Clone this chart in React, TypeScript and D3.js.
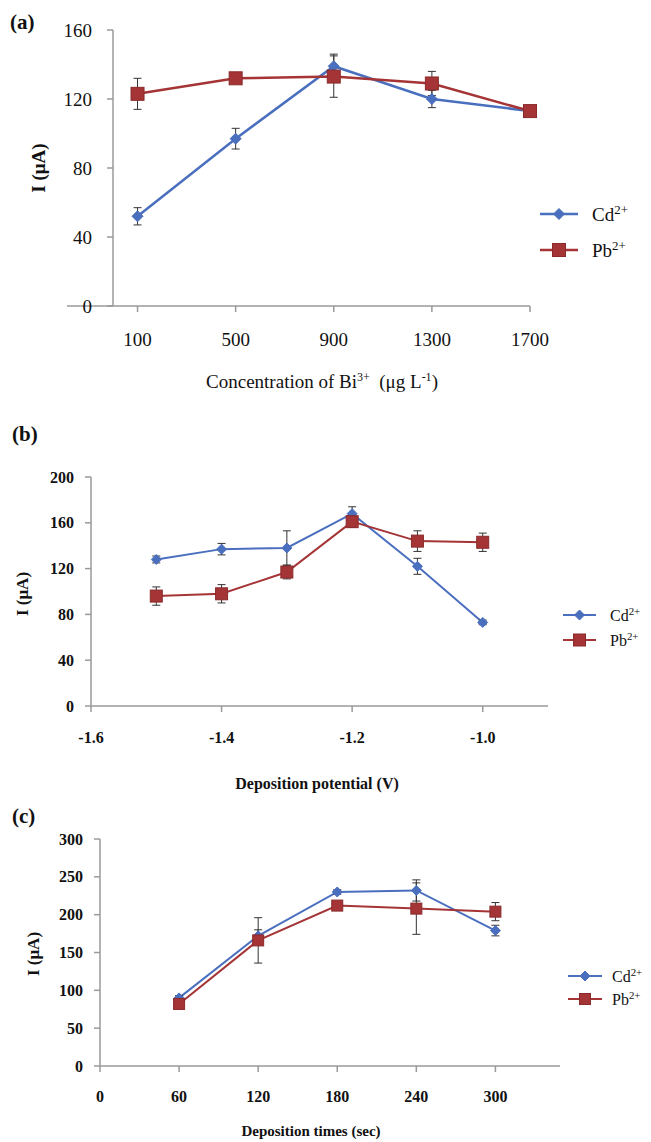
import React from "react";
import * as d3 from "d3";

// ---------- DATA ----------
// Panel (a): concentration of Bi3+ (µg L-1)
const X_A = [100, 500, 900, 1300, 1700];
const CD_A = [52, 97, 139, 120, 113];
const CD_A_ERR = [5, 6, 7, 5, 3];
const PB_A = [123, 132, 133, 129, 113];
const PB_A_ERR = [9, 2, 12, 7, 3];
const XTICKS_A = [100, 500, 900, 1300, 1700];
const YTICKS_A = [0, 40, 80, 120, 160];

// Panel (b): deposition potential (V)
const X_B = [-1.5, -1.4, -1.3, -1.2, -1.1, -1.0];
const CD_B = [128, 137, 138, 168, 122, 73];
const CD_B_ERR = [3, 5, 15, 6, 7, 2];
const PB_B = [96, 98, 117, 161, 144, 143];
const PB_B_ERR = [8, 8, 6, 5, 9, 8];
const XTICKS_B = [-1.6, -1.4, -1.2, -1.0];
const YTICKS_B = [0, 40, 80, 120, 160, 200];

// Panel (c): deposition times (sec)
const X_C = [60, 120, 180, 240, 300];
const CD_C = [90, 172, 230, 232, 179];
const CD_C_ERR = [3, 8, 3, 14, 7];
const PB_C = [82, 166, 212, 208, 204];
const PB_C_ERR = [3, 30, 5, 34, 12];
const XTICKS_C = [0, 60, 120, 180, 240, 300];
const YTICKS_C = [0, 50, 100, 150, 200, 250, 300];

const SERIES = ["Cd", "Pb"];

// ---------- STYLE ----------
const CD_COLOR = "#4A6FBE";
const PB_COLOR = "#A53436";
const AXIS_COLOR = "#9a9a9a";
const FONT = "'Liberation Serif', 'DejaVu Serif', serif";

type PanelProps = {
  label: string;
  labelPos: [number, number];
  xs: number[];
  cd: number[];
  cdErr: number[];
  pb: number[];
  pbErr: number[];
  xDomain: [number, number];
  xRange: [number, number];
  yDomain: [number, number];
  yRange: [number, number];
  xTicks: number[];
  yTicks: number[];
  xFmt: (v: number) => string;
  axisLeftExtend: number;
  tickFont: number;
  tickWeight: string;
  xLabelDy: number;
  yLabelGap: number;
  yTitle: { x: number; y: number; size: number };
  xTitle: React.ReactNode;
  xTitlePos: [number, number];
  xTitleSize: number;
  xTitleWeight: string;
  legend: { x1: number; x2: number; y: number; gap: number; textX: number; size: number };
  lineW: number;
  diamond: number;
  square: number;
};

function Panel(p: PanelProps) {
  const x = d3.scaleLinear().domain(p.xDomain).range(p.xRange);
  const y = d3.scaleLinear().domain(p.yDomain).range(p.yRange);
  const line = d3
    .line<[number, number]>()
    .x((d) => x(d[0]))
    .y((d) => y(d[1]));
  const cdPts: [number, number][] = p.xs.map((v, i) => [v, p.cd[i]]);
  const pbPts: [number, number][] = p.xs.map((v, i) => [v, p.pb[i]]);
  const x0 = p.xRange[0];
  const y0 = y(p.yDomain[0]);
  const cap = 4;

  const errBars = (vals: number[], errs: number[], key: string) =>
    p.xs.map((v, i) => {
      const cx = x(v);
      const t = y(vals[i] + errs[i]);
      const b = y(vals[i] - errs[i]);
      return (
        <g key={key + i} stroke="#333" strokeWidth={1}>
          <line x1={cx} x2={cx} y1={t} y2={b} />
          <line x1={cx - cap} x2={cx + cap} y1={t} y2={t} />
          <line x1={cx - cap} x2={cx + cap} y1={b} y2={b} />
        </g>
      );
    });

  const diamond = (cx: number, cy: number, s: number, key: string) => (
    <path
      key={key}
      d={`M${cx},${cy - s}L${cx + s},${cy}L${cx},${cy + s}L${cx - s},${cy}Z`}
      fill={CD_COLOR}
      stroke={CD_COLOR}
    />
  );
  const square = (cx: number, cy: number, s: number, key: string) => (
    <rect
      key={key}
      x={cx - s / 2}
      y={cy - s / 2}
      width={s}
      height={s}
      fill={PB_COLOR}
      stroke="#8a2a2c"
      strokeWidth={1}
    />
  );

  const lg = p.legend;
  return (
    <g fontFamily={FONT}>
      <text x={p.labelPos[0]} y={p.labelPos[1]} fontSize={21} fontWeight="bold" fill="#111">
        {p.label}
      </text>
      {/* axes */}
      <line x1={x0 - p.axisLeftExtend} x2={p.xRange[1]} y1={y0} y2={y0} stroke={AXIS_COLOR} strokeWidth={1.5} />
      <line x1={x0} x2={x0} y1={p.yRange[1]} y2={y0} stroke={AXIS_COLOR} strokeWidth={1.5} />
      {p.yTicks.map((t) => (
        <g key={"yt" + t}>
          <line x1={x0 - 6} x2={x0} y1={y(t)} y2={y(t)} stroke={AXIS_COLOR} strokeWidth={1.5} />
          <text
            x={x0 - p.yLabelGap}
            y={y(t)}
            dy="0.35em"
            textAnchor="end"
            fontSize={p.tickFont}
            fontWeight={p.tickWeight}
            fill="#111"
          >
            {t}
          </text>
        </g>
      ))}
      {p.xTicks.map((t) => (
        <g key={"xt" + t}>
          <line x1={x(t)} x2={x(t)} y1={y0} y2={y0 + 6} stroke={AXIS_COLOR} strokeWidth={1.5} />
          <text
            x={x(t)}
            y={y0 + p.xLabelDy}
            textAnchor="middle"
            fontSize={p.tickFont}
            fontWeight={p.tickWeight}
            fill="#111"
          >
            {p.xFmt(t)}
          </text>
        </g>
      ))}
      {/* titles */}
      <text
        transform={`translate(${p.yTitle.x},${p.yTitle.y}) rotate(-90)`}
        textAnchor="middle"
        dy="0.35em"
        fontSize={p.yTitle.size}
        fontWeight="bold"
        fill="#111"
      >
        I (μA)
      </text>
      <text
        x={p.xTitlePos[0]}
        y={p.xTitlePos[1]}
        textAnchor="middle"
        fontSize={p.xTitleSize}
        fontWeight={p.xTitleWeight}
        fill="#111"
      >
        {p.xTitle}
      </text>
      {/* lines */}
      <path d={line(cdPts) || ""} fill="none" stroke={CD_COLOR} strokeWidth={p.lineW} />
      <path d={line(pbPts) || ""} fill="none" stroke={PB_COLOR} strokeWidth={p.lineW} />
      {errBars(p.cd, p.cdErr, "ce")}
      {errBars(p.pb, p.pbErr, "pe")}
      {cdPts.map((d, i) => diamond(x(d[0]), y(d[1]), p.diamond, "cd" + i))}
      {pbPts.map((d, i) => square(x(d[0]), y(d[1]), p.square, "pb" + i))}
      {/* legend */}
      {SERIES.map((s, i) => {
        const ly = lg.y + i * lg.gap;
        const mx = (lg.x1 + lg.x2) / 2;
        return (
          <g key={"lg" + s}>
            <line x1={lg.x1} x2={lg.x2} y1={ly} y2={ly} stroke={s === "Cd" ? CD_COLOR : PB_COLOR} strokeWidth={p.lineW} />
            {s === "Cd" ? diamond(mx, ly, p.diamond, "lgd") : square(mx, ly, p.square, "lgs")}
            <text x={lg.textX} y={ly} dy="0.35em" fontSize={lg.size} fill="#111">
              {s}
              <tspan dy={-lg.size * 0.35} fontSize={lg.size * 0.68}>
                2+
              </tspan>
            </text>
          </g>
        );
      })}
    </g>
  );
}

export default function App() {
  const fmtInt = (v: number) => String(v);
  const fmt1 = (v: number) => v.toFixed(1);
  return (
    <svg
      width={651}
      height={1142}
      style={{ display: "block", position: "absolute", left: 0, top: 0 }}
    >
      <rect x={0} y={0} width={651} height={1142} fill="#fff" />
      <Panel
        label="(a)"
        labelPos={[10, 29]}
        xs={X_A}
        cd={CD_A}
        cdErr={CD_A_ERR}
        pb={PB_A}
        pbErr={PB_A_ERR}
        xDomain={[0, 1700]}
        xRange={[113, 530]}
        yDomain={[0, 160]}
        yRange={[306, 30]}
        xTicks={XTICKS_A}
        yTicks={YTICKS_A}
        xFmt={fmtInt}
        axisLeftExtend={46}
        tickFont={19}
        tickWeight="normal"
        xLabelDy={40}
        yLabelGap={21}
        yTitle={{ x: 38, y: 168, size: 19 }}
        xTitle={
          <>
            Concentration of Bi
            <tspan dy={-7} fontSize={12}>3+</tspan>
            <tspan dy={7}>{"\u00a0\u00a0(μg L"}</tspan>
            <tspan dy={-7} fontSize={12}>-1</tspan>
            <tspan dy={7}>)</tspan>
          </>
        }
        xTitlePos={[322, 388]}
        xTitleSize={19}
        xTitleWeight="normal"
        legend={{ x1: 540, x2: 578, y: 214, gap: 36, textX: 592, size: 19 }}
        lineW={2.5}
        diamond={5.5}
        square={13}
      />
      <Panel
        label="(b)"
        labelPos={[12, 441]}
        xs={X_B}
        cd={CD_B}
        cdErr={CD_B_ERR}
        pb={PB_B}
        pbErr={PB_B_ERR}
        xDomain={[-1.6, -0.9]}
        xRange={[91, 548]}
        yDomain={[0, 200]}
        yRange={[706, 477]}
        xTicks={XTICKS_B}
        yTicks={YTICKS_B}
        xFmt={fmt1}
        axisLeftExtend={0}
        tickFont={16}
        tickWeight="bold"
        xLabelDy={37}
        yLabelGap={17}
        yTitle={{ x: 22, y: 594, size: 17 }}
        xTitle={<>Deposition potential (V)</>}
        xTitlePos={[317, 789]}
        xTitleSize={16}
        xTitleWeight="bold"
        legend={{ x1: 563, x2: 596, y: 615, gap: 25, textX: 610, size: 16 }}
        lineW={2}
        diamond={5}
        square={12}
      />
      <Panel
        label="(c)"
        labelPos={[12, 823]}
        xs={X_C}
        cd={CD_C}
        cdErr={CD_C_ERR}
        pb={PB_C}
        pbErr={PB_C_ERR}
        xDomain={[0, 349]}
        xRange={[100, 560]}
        yDomain={[0, 300]}
        yRange={[1066, 839]}
        xTicks={XTICKS_C}
        yTicks={YTICKS_C}
        xFmt={fmtInt}
        axisLeftExtend={0}
        tickFont={16}
        tickWeight="bold"
        xLabelDy={36}
        yLabelGap={17}
        yTitle={{ x: 33, y: 954, size: 17 }}
        xTitle={<>Deposition times (sec)</>}
        xTitlePos={[311, 1136]}
        xTitleSize={15}
        xTitleWeight="bold"
        legend={{ x1: 568, x2: 602, y: 976, gap: 23, textX: 612, size: 16 }}
        lineW={2}
        diamond={5}
        square={11}
      />
    </svg>
  );
}
